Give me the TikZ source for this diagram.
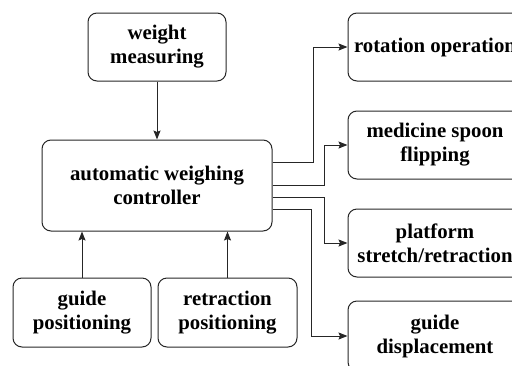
\documentclass[tikz,border=0pt]{standalone}
\usepackage{fontspec}
\setmainfont{Liberation Serif}
\usetikzlibrary{arrows.meta}
\begin{document}
\begin{tikzpicture}[x=1pt,y=-1pt,
  box/.style={draw=black!85, line width=1pt, rounded corners=9pt, align=center,
    font=\bfseries\fontsize{20.8}{24}\selectfont, inner sep=0pt},
  arr/.style={draw=black!85, line width=1pt, -{Stealth[length=9pt,width=7pt,inset=1.5pt]}}]
\useasboundingbox (0,0) rectangle (512,365);
\node[box, minimum width=138pt, minimum height=68pt] (wm) at (157,47) {weight\\measuring};
\node[box, minimum width=230pt, minimum height=91pt] (ctl) at (157,185.5) {automatic weighing\\controller};
\node[box, minimum width=138pt, minimum height=69pt] (gp) at (82,312.5) {guide\\positioning};
\node[box, minimum width=139pt, minimum height=69pt] (rp) at (227.5,312.5) {retraction\\positioning};
\node[box, minimum width=174pt, minimum height=68pt] (ro) at (435,47) {rotation operation};
\node[box, minimum width=174pt, minimum height=68pt] (ms) at (435,145) {medicine spoon\\flipping};
\node[box, minimum width=174pt, minimum height=68pt] (ps) at (435,243) {platform\\stretch/retraction};
\node[box, minimum width=174pt, minimum height=70pt] (gd) at (435,336) {guide\\displacement};
\draw[arr] (wm) -- (ctl);
\draw[arr] (gp.north) -- (gp.north |- ctl.south);
\draw[arr] (rp.north) -- (rp.north |- ctl.south);
\draw[arr] ([yshift=23.5pt]ctl.east) -- ++(41,0) |- (ro.west);
\draw[arr] (ctl.east) -- ++(52,0) |- (ms.west);
\draw[arr] ([yshift=-11.5pt]ctl.east) -- ++(52,0) |- (ps.west);
\draw[arr] ([yshift=-23.5pt]ctl.east) -- ++(39,0) |- (gd.west);
\end{tikzpicture}
\end{document}
